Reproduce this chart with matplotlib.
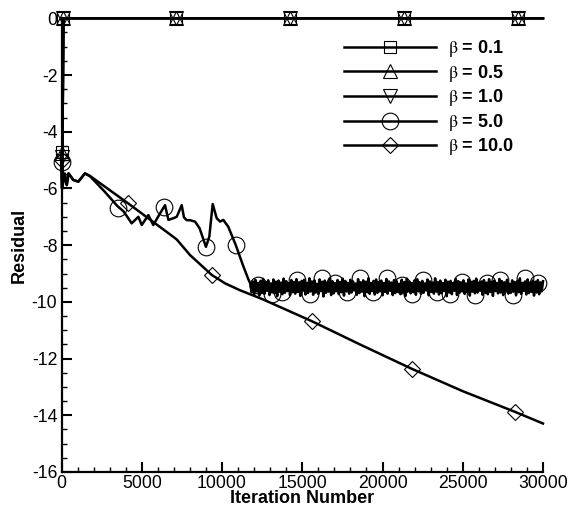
import numpy as np
import matplotlib
matplotlib.use("Agg")
import matplotlib.pyplot as plt
from matplotlib.lines import Line2D
from matplotlib.ticker import MultipleLocator

plt.rcParams['font.family'] = ['Liberation Sans', 'DejaVu Sans']
plt.rcParams['axes.unicode_minus'] = False
plt.rcParams['mathtext.fontset'] = 'stix'

# ---------------- data ----------------
labels = [r"$\mathrm{\beta}$ = 0.1", r"$\mathrm{\beta}$ = 0.5", r"$\mathrm{\beta}$ = 1.0",
          r"$\mathrm{\beta}$ = 5.0", r"$\mathrm{\beta}$ = 10.0"]

# beta = 0.1, 0.5, 1.0 : jump to 0 immediately and stay there
flat_x = [0, 40, 120, 7130, 14240, 21340, 28450, 30000]
flat_y01 = [-4.70, -6.0, 0, 0, 0, 0, 0, 0]
flat_y05 = [-4.75, -6.0, 0, 0, 0, 0, 0, 0]
flat_y10 = [-4.90, -6.0, 0, 0, 0, 0, 0, 0]
flat_marks = [0, 2, 3, 4, 5, 6]

# beta = 5.0
b5_x = [0, 60, 110, 325, 420, 735, 1050, 1460, 1776, 2700, 3480, 3850, 4100, 4370,
        4790, 5000, 5410, 5720, 6140, 6450, 6660, 6970, 7180, 7490, 7630, 7800,
        8010, 8320, 8600, 9000, 9210, 9420, 9670, 9880, 10080, 10390, 10860,
        11300, 11640, 11760]
b5_y = [-5.05, -6.0, -5.47, -5.88, -5.47, -5.70, -5.76, -5.47, -5.57, -6.12, -6.62,
        -6.80, -7.00, -7.23, -7.00, -7.29, -6.94, -7.29, -6.88, -6.59, -7.11, -7.05,
        -7.00, -6.59, -7.02, -7.12, -7.12, -7.17, -7.40, -8.06, -7.70, -6.55, -7.05,
        -7.17, -7.11, -7.35, -8.00, -8.70, -9.20, -9.35]
b5_noise_x = np.arange(11840, 30001, 80)
b5_noise_y = [
    -9.66, -9.28, -9.74, -9.22, -9.63, -9.33, -9.78, -9.26, -9.69, -9.19, -9.72, -9.30,
    -9.61, -9.24, -9.76, -9.35, -9.67, -9.21, -9.70, -9.29, -9.80, -9.25, -9.64, -9.32,
    -9.73, -9.18, -9.68, -9.27, -9.62, -9.34, -9.77, -9.23, -9.66, -9.30, -9.71, -9.20,
    -9.65, -9.31, -9.79, -9.26, -9.60, -9.22, -9.74, -9.33, -9.69, -9.17, -9.63, -9.28,
    -9.75, -9.24, -9.67, -9.36, -9.72, -9.21, -9.62, -9.29, -9.81, -9.25, -9.68, -9.32,
    -9.64, -9.19, -9.76, -9.27, -9.70, -9.34, -9.61, -9.23, -9.73, -9.30, -9.66, -9.18,
    -9.78, -9.26, -9.63, -9.33, -9.71, -9.22, -9.67, -9.28, -9.60, -9.35, -9.75, -9.20,
    -9.69, -9.31, -9.64, -9.24, -9.80, -9.29, -9.66, -9.17, -9.72, -9.33, -9.62, -9.26,
    -9.74, -9.21, -9.68, -9.30, -9.63, -9.25, -9.77, -9.34, -9.65, -9.19, -9.71, -9.28,
    -9.61, -9.32, -9.76, -9.23, -9.69, -9.27, -9.64, -9.36, -9.73, -9.22, -9.67, -9.30,
    -9.79, -9.18, -9.62, -9.29, -9.70, -9.33, -9.66, -9.24, -9.75, -9.20, -9.63, -9.31,
    -9.72, -9.26, -9.68, -9.35, -9.60, -9.21, -9.77, -9.28, -9.65, -9.32, -9.71, -9.17,
    -9.64, -9.30, -9.74, -9.25, -9.69, -9.34, -9.62, -9.22, -9.80, -9.29, -9.67, -9.26,
    -9.73, -9.33, -9.61, -9.19, -9.76, -9.27, -9.68, -9.31, -9.63, -9.24, -9.72, -9.35,
    -9.66, -9.21, -9.78, -9.30, -9.64, -9.26, -9.70, -9.18, -9.67, -9.33, -9.61, -9.28,
    -9.75, -9.23, -9.69, -9.32, -9.73, -9.20, -9.65, -9.29, -9.79, -9.25, -9.62, -9.34,
    -9.70, -9.19, -9.67, -9.27, -9.76, -9.31, -9.63, -9.22, -9.71, -9.36, -9.68, -9.24,
    -9.64, -9.30, -9.77, -9.26, -9.66, -9.17, -9.72, -9.33, -9.61, -9.28, -9.74, -9.21,
    -9.69, -9.32, -9.65, -9.25, -9.78, -9.29, -9.67, -9.23, -9.73, -9.31, -9.63, -9.27]
b5_mark_x = [0, 3540, 6390, 9000, 10860, 12260, 13100, 13720, 14660, 15480, 16210,
             17040, 17770, 18600, 19430, 20260, 21200, 21820, 22540, 23380, 24210,
             24940, 25770, 26490, 27320, 28150, 28880, 29710]
b5_mark_y = [-5.06, -6.70, -6.67, -8.06, -8.00, -9.41, -9.71, -9.65, -9.23, -9.71,
             -9.17, -9.35, -9.65, -9.17, -9.65, -9.17, -9.41, -9.71, -9.23, -9.65,
             -9.71, -9.29, -9.77, -9.35, -9.23, -9.77, -9.17, -9.35]

# beta = 10.0
b10_x = [0, 60, 200, 330, 450, 735, 1050, 1460, 1776, 4160, 6760, 7180, 8010, 9360,
         10200, 11120, 12500, 15590, 18700, 21860, 25000, 28260, 30000]
b10_y = [-5.00, -5.95, -5.47, -5.88, -5.47, -5.70, -5.76, -5.47, -5.56, -6.53, -7.62,
         -7.80, -8.35, -9.05, -9.35, -9.59, -9.90, -10.68, -11.53, -12.37, -13.15,
         -13.88, -14.29]
b10_marks = [0, 9, 13, 17, 19, 21]

x_ticks = [0, 5000, 10000, 15000, 20000, 25000, 30000]
y_ticks = [0, -2, -4, -6, -8, -10, -12, -14, -16]

# ---------------- figure ----------------
fig = plt.figure(figsize=(5.69, 5.08), dpi=100)
ax = fig.add_axes([61.5 / 569, 1 - 472 / 508, (543 - 61.5) / 569, (472 - 18.3) / 508])

lw = 1.8
mew = 0.8
style = dict(color='black', lw=lw, mfc='none', mec='black', mew=mew)

ax.plot(flat_x, flat_y01, marker='s', ms=9, markevery=flat_marks, clip_on=False, **style)
ax.plot(flat_x, flat_y05, marker='^', ms=9.5, markevery=flat_marks, clip_on=False, **style)
ax.plot(flat_x, flat_y10, marker='v', ms=9.5, markevery=flat_marks, clip_on=False, **style)

ax.plot(list(b5_x) + list(b5_noise_x), list(b5_y) + list(b5_noise_y),
        color='black', lw=lw, clip_on=False)
ax.plot(b5_mark_x, b5_mark_y, linestyle='none', marker='o', ms=12, mfc='none',
        mec='black', mew=mew, clip_on=False)

ax.plot(b10_x, b10_y, marker='D', ms=8.5, markevery=b10_marks, clip_on=False, **style)

ax.set_xlim(0, 30000)
ax.set_ylim(-16, 0)
ax.set_xticks(x_ticks)
ax.set_yticks(y_ticks)
ax.set_xticklabels([str(v) for v in x_ticks])
ax.set_yticklabels([str(v) for v in y_ticks])
ax.xaxis.set_minor_locator(MultipleLocator(1000))
ax.yaxis.set_minor_locator(MultipleLocator(0.5))

for s in ['top', 'right']:
    ax.spines[s].set_visible(False)
for s in ['left', 'bottom']:
    ax.spines[s].set_linewidth(1.6)

ax.tick_params(which='major', direction='in', length=7, width=1.5, labelsize=12.7, pad=3)
ax.tick_params(which='minor', direction='in', length=3.5, width=1.0)
ax.tick_params(axis='x', which='major', pad=2)

ax.set_xlabel('Iteration Number', fontsize=13, fontweight='bold', labelpad=-1)
ax.set_ylabel('Residual', fontsize=13, fontweight='bold', labelpad=3)

handles = [
    Line2D([], [], marker='s', ms=9, **style),
    Line2D([], [], marker='^', ms=9.5, **style),
    Line2D([], [], marker='v', ms=9.5, **style),
    Line2D([], [], marker='o', ms=12, **style),
    Line2D([], [], marker='D', ms=8.5, **style),
]
leg = fig.legend(handles, labels, loc='upper left',
                 bbox_to_anchor=(344 / 569, 1 - 38 / 508), frameon=False,
                 handlelength=5.1, handletextpad=0.65, labelspacing=0.2,
                 borderpad=0, borderaxespad=0, numpoints=1,
                 prop={'size': 13, 'weight': 'bold'})

fig.savefig('out.png', dpi=100)
